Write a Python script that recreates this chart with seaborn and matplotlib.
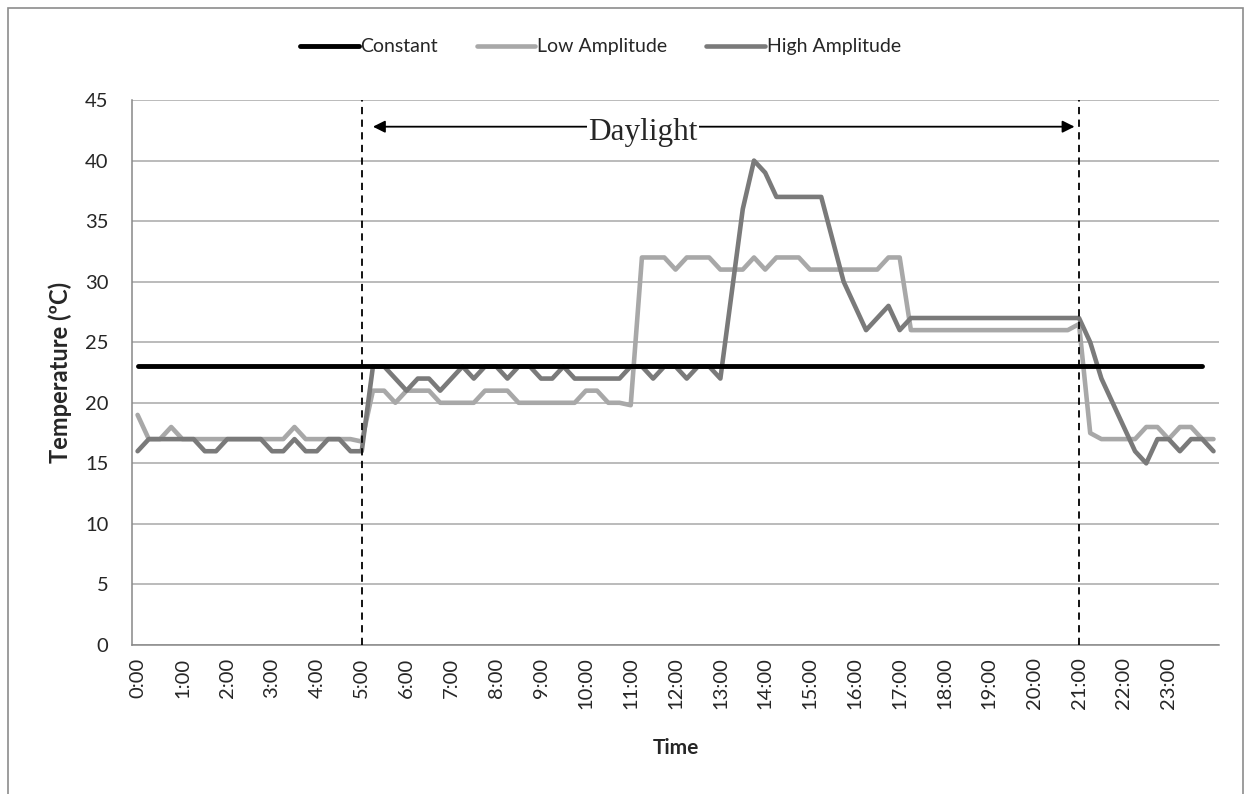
import numpy as np
import pandas as pd
import matplotlib
matplotlib.use("Agg")
import matplotlib.pyplot as plt
import matplotlib.patches as mpatches
import seaborn as sns

# 15-minute steps, 0:00 .. 24:00
STEPS = list(range(97))
HOUR_LABELS = [f"{h}:00" for h in range(24)]
HOUR_TICKS = [h * 4 for h in range(24)]

CONSTANT = [23] * 96

LOW_AMPLITUDE = [
    19, 17, 17, 18, 17, 17, 17, 17, 17, 17, 17, 17, 17, 17, 18, 17, 17, 17, 17, 17, 16.8,
    21, 21, 20, 21, 21, 21, 20, 20, 20, 20, 21, 21, 21, 20, 20, 20, 20, 20, 20, 21, 21, 20, 20, 19.8,
    32, 32, 32, 31, 32, 32, 32, 31, 31, 31, 32, 31, 32, 32, 32, 31, 31, 31, 31, 31, 31, 31, 32, 32,
    26, 26, 26, 26, 26, 26, 26, 26, 26, 26, 26, 26, 26, 26, 26, 26.5,
    17.5, 17, 17, 17, 17, 18, 18, 17, 18, 18, 17, 17,
]

HIGH_AMPLITUDE = [
    16, 17, 17, 17, 17, 17, 16, 16, 17, 17, 17, 17, 16, 16, 17, 16, 16, 17, 17, 16, 16,
    23, 23, 22, 21, 22, 22, 21, 22, 23, 22, 23, 23, 22, 23, 23, 22, 22, 23, 22, 22, 22, 22, 22, 23,
    23, 22, 23, 23, 22, 23, 23, 22, 29, 36, 40, 39, 37, 37, 37, 37, 37, 33.5, 30, 28, 26, 27, 28, 26,
    27, 27, 27, 27, 27, 27, 27, 27, 27, 27, 27, 27, 27, 27, 27, 27,
    25, 22, 20, 18, 16, 15, 17, 17, 16, 17, 17, 16,
]

DAYLIGHT_START = 20   # 5:00
DAYLIGHT_END = 84     # 21:00

sns.set_style("white")
plt.rcParams["font.family"] = ["Lato", "DejaVu Sans"]

fig = plt.figure(figsize=(12.51, 7.94), dpi=100)
ax = fig.add_axes([0.1055, 0.1877, 0.869, 0.6863])

sns.lineplot(x=STEPS, y=LOW_AMPLITUDE, ax=ax, color="#a8a8a8", lw=3.3, zorder=3)
sns.lineplot(x=STEPS, y=HIGH_AMPLITUDE, ax=ax, color="#7a7a7a", lw=3.3, zorder=4)
sns.lineplot(x=STEPS[:96], y=CONSTANT, ax=ax, color="black", lw=3.5, zorder=5)

ax.set_xlim(-0.5, 96.5)
ax.set_ylim(0, 45)
ax.set_yticks(range(0, 46, 5))
ax.yaxis.grid(True, color="#a8a8a8", lw=1.1)
ax.xaxis.grid(False)

ax.set_xticks(HOUR_TICKS)
ax.set_xticklabels(HOUR_LABELS, rotation=90)
ax.set_xticks(np.arange(-0.5, 97, 1), minor=True)
ax.tick_params(axis="x", which="major", length=0, pad=9, labelsize=14.5)
ax.tick_params(axis="x", which="minor", length=5, width=1, color="#888888", direction="out")
ax.tick_params(axis="y", length=7, width=1, color="#888888", direction="out", pad=10, labelsize=14.5)

for s in ["top", "right"]:
    ax.spines[s].set_visible(False)
for s in ["left", "bottom"]:
    ax.spines[s].set_color("#888888")
    ax.spines[s].set_linewidth(1.1)

ax.set_ylabel("Temperature (ºC)", fontsize=17, fontweight="bold")
ax.yaxis.set_label_coords(-0.055, 0.5)
ax.set_xlabel("Time", fontsize=15, fontweight="bold")
ax.xaxis.set_label_coords(0.5, -0.17)

# daylight markers
for x in [DAYLIGHT_START, DAYLIGHT_END]:
    ax.axvline(x, color="black", lw=1.3, ls=(0, (4, 3)), zorder=6)

ax.annotate("", xy=(21.0, 42.8), xytext=(83.6, 42.8),
            arrowprops=dict(arrowstyle="<|-|>", color="black", lw=1.3,
                            mutation_scale=18, shrinkA=0, shrinkB=0), zorder=6)
ax.text(45.1, 41.7, "Daylight", family="Liberation Serif", fontsize=22.5,
        ha="center", va="baseline", zorder=7,
        bbox=dict(facecolor="white", edgecolor="none", pad=1))

# legend
handles = [
    plt.Line2D([], [], color="black", lw=3.5),
    plt.Line2D([], [], color="#a8a8a8", lw=3.3),
    plt.Line2D([], [], color="#7a7a7a", lw=3.3),
]
fig.legend(handles, ["Constant", "Low Amplitude", "High Amplitude"],
           loc="center", bbox_to_anchor=(0.48, 0.941), ncol=3, frameon=False,
           fontsize=14, handlelength=3.0, handletextpad=0.1, columnspacing=2.0)

# outer chart border
fig.patches.append(mpatches.Rectangle((8 / 1251, -0.05), 1235 / 1251, 1.05 - 8 / 794,
                                      transform=fig.transFigure, fill=False,
                                      edgecolor="#8c8c8c", lw=1.2))

fig.savefig("out.png", dpi=100)
